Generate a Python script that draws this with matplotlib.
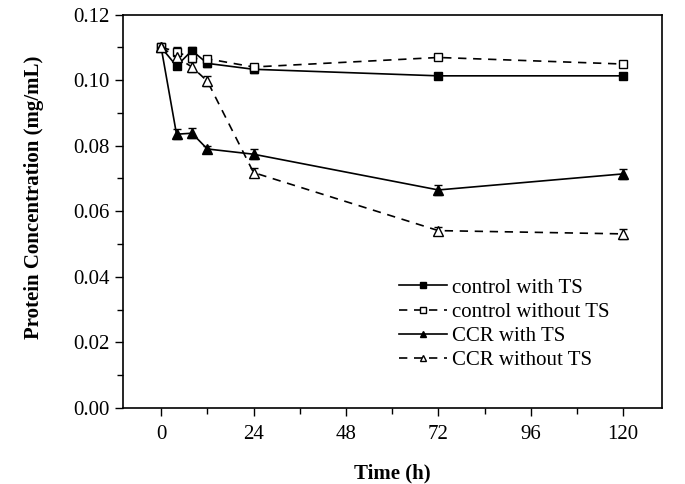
import matplotlib
matplotlib.use("Agg")
import matplotlib.pyplot as plt
from matplotlib.ticker import MultipleLocator

plt.rcParams['font.family'] = ['Liberation Serif', 'DejaVu Serif']

# time points (h)
time = [0, 4, 8, 12, 24, 72, 120]

# protein concentration (mg/mL) for each treatment
control_ts = [0.110, 0.1043, 0.1090, 0.1051, 0.1033, 0.1013, 0.1013]
control_no_ts = [0.110, 0.1087, 0.1066, 0.1065, 0.1040, 0.1069, 0.1049]
ccr_ts = [0.110, 0.0835, 0.0838, 0.0790, 0.0774, 0.0665, 0.0714]
ccr_no_ts = [0.110, 0.1070, 0.1040, 0.0997, 0.0718, 0.0541, 0.0531]

# small error bars read from the caps
err_control_ts = [0.0, 0.001, 0.001, 0.001, 0.001, 0.001, 0.001]
err_control_no_ts = [0.0, 0.0015, 0.001, 0.001, 0.001, 0.0005, 0.001]
err_ccr_ts = [0.0, 0.0015, 0.0015, 0.001, 0.0015, 0.0015, 0.0015]
err_ccr_no_ts = [0.0, 0.0015, 0.0015, 0.0015, 0.0015, 0.001, 0.0015]

labels = ['control with TS', 'control without TS', 'CCR with TS', 'CCR without TS']

fig = plt.figure(figsize=(6.85, 4.84), dpi=100)
ax = fig.add_axes([0.179, 0.157, 0.787, 0.813])

dash = (0, (5, 4))
c1 = ax.errorbar(time, control_ts, yerr=err_control_ts, color='black', linestyle='-',
                 linewidth=1.2, marker='s', markersize=6, markerfacecolor='black',
                 capsize=3, elinewidth=1)
c2 = ax.errorbar(time, control_no_ts, yerr=err_control_no_ts, color='black', linestyle=dash,
                 linewidth=1.2, marker='s', markersize=6, markerfacecolor='white',
                 capsize=3, elinewidth=1)
c3 = ax.errorbar(time, ccr_ts, yerr=err_ccr_ts, color='black', linestyle='-',
                 linewidth=1.2, marker='^', markersize=7, markerfacecolor='black',
                 capsize=3, elinewidth=1)
c4 = ax.errorbar(time, ccr_no_ts, yerr=err_ccr_no_ts, color='black', linestyle=dash,
                 linewidth=1.2, marker='^', markersize=7, markerfacecolor='white',
                 capsize=3, elinewidth=1)

ax.set_xlim(-10, 130)
ax.set_ylim(0, 0.12)
ax.set_xticks([0, 24, 48, 72, 96, 120])
ax.xaxis.set_minor_locator(MultipleLocator(12))
ax.yaxis.set_major_locator(MultipleLocator(0.02))
ax.yaxis.set_minor_locator(MultipleLocator(0.01))
ax.yaxis.set_major_formatter(plt.FormatStrFormatter('%.2f'))
ax.tick_params(which='both', direction='out', top=False, right=False, labelsize=15)
ax.tick_params(which='major', length=6, width=1, pad=3)
ax.tick_params(axis='x', which='major', pad=6)
ax.tick_params(which='minor', length=4, width=1)
for s in ax.spines.values():
    s.set_linewidth(1.2)

ax.set_xlabel('Time (h)', fontsize=15, fontweight='bold', labelpad=14)
ax.set_ylabel('Protein Concentration (mg/mL)', fontsize=15, fontweight='bold')
ax.yaxis.set_label_coords(-0.146, 0.536)

# legend without the error bars
handles = [c[0] for c in (c1, c2, c3, c4)]
ax.legend(handles, labels, loc='upper left', bbox_to_anchor=(0.5126, 0.33),
          frameon=False, fontsize=15, handlelength=2.3, handletextpad=0.25,
          labelspacing=0.22, borderpad=0, borderaxespad=0, markerscale=0.7)

fig.savefig('out.png', dpi=100)
